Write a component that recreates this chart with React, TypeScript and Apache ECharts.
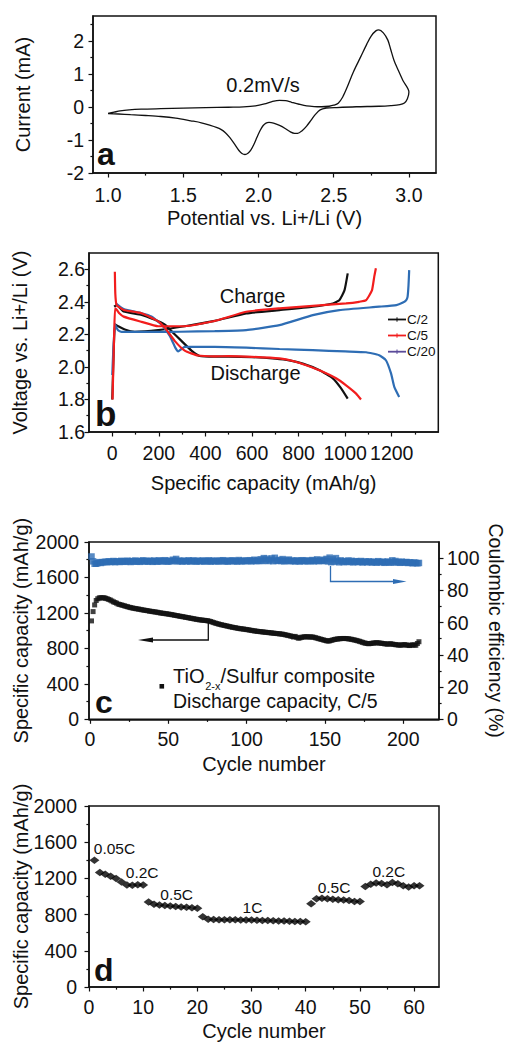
import React, { useEffect, useRef } from "react";
import * as echarts from "echarts";

const FONT = '"Liberation Sans", Arial, Helvetica, sans-serif';
const INK = "#111111";
const RED = "#f21d1d";
const BLUE = "#2e6db4";
const PURPLE = "#5b4b9a";
const TICK_FS = 19.5;
const NAME_FS = 20;

// ---------- Panel a: cyclic voltammogram ----------
const cvPotential = [
  1.0, 1.04, 1.08, 1.14, 1.22, 1.35, 1.5, 1.65, 1.8, 1.9, 1.98, 2.04, 2.09, 2.14, 2.18, 2.22, 2.27, 2.32, 2.37, 2.42,
  2.47, 2.5, 2.53, 2.56, 2.59, 2.63, 2.68, 2.72, 2.75, 2.78, 2.8, 2.83, 2.86, 2.88, 2.9, 2.93, 2.96, 3.0,
  2.99, 2.97, 2.94, 2.88, 2.8, 2.65, 2.52, 2.45, 2.41, 2.38, 2.35, 2.32, 2.29, 2.26, 2.24, 2.21, 2.18, 2.14, 2.1, 2.07,
  2.05, 2.03, 2.01, 1.99, 1.97, 1.95, 1.93, 1.91, 1.89, 1.87, 1.84, 1.81, 1.78, 1.75, 1.72, 1.68, 1.62, 1.55, 1.45, 1.35,
  1.25, 1.15, 1.07, 1.0,
];
const cvCurrent = [
  -0.2, -0.16, -0.12, -0.09, -0.07, -0.055, -0.04, -0.025, -0.01, 0.0, 0.03, 0.09, 0.16, 0.2, 0.19, 0.14, 0.08, 0.03, 0.01, 0.005,
  0.02, 0.05, 0.11, 0.3, 0.6, 1.05, 1.52, 1.9, 2.15, 2.3, 2.33, 2.24, 2.02, 1.72, 1.42, 1.1, 0.8, 0.45,
  0.25, 0.12, 0.07, 0.04, 0.02, 0.005, -0.02, -0.04, -0.09, -0.22, -0.4, -0.58, -0.72, -0.8, -0.8, -0.75, -0.66, -0.56, -0.49, -0.47,
  -0.49, -0.57, -0.72, -0.92, -1.13, -1.3, -1.4, -1.44, -1.41, -1.32, -1.12, -0.93, -0.78, -0.68, -0.62, -0.56, -0.48, -0.42, -0.34, -0.29,
  -0.26, -0.235, -0.215, -0.2,
];
const aXTicks = [1.0, 1.5, 2.0, 2.5, 3.0];
const aXMinor = [1.25, 1.75, 2.25, 2.75];
const aYTicks = [-2, -1, 0, 1, 2];
const aYMinor = [-1.5, -0.5, 0.5, 1.5, 2.5];

// ---------- Panel b: charge / discharge profiles [capacity mAh/g, voltage V] ----------
const c2Discharge = [
  [8, 2.37], [19, 2.38], [49, 2.34], [126, 2.32], [183, 2.29], [226, 2.26], [254, 2.22], [297, 2.16], [340, 2.1], [375, 2.067],
  [440, 2.063], [500, 2.063], [600, 2.06], [700, 2.05], [760, 2.04], [818, 2.02], [890, 1.98], [947, 1.93], [982, 1.87], [1011, 1.805],
];
const c2Charge = [
  [0, 1.8], [6, 2.1], [12, 2.26], [26, 2.25], [54, 2.23], [96, 2.216], [197, 2.226], [311, 2.25], [440, 2.283], [575, 2.329],
  [718, 2.349], [861, 2.37], [947, 2.39], [975, 2.41], [997, 2.47], [1011, 2.575],
];
const c5Discharge = [
  [11, 2.585], [13, 2.45], [18, 2.38], [26, 2.37], [49, 2.35], [126, 2.33], [197, 2.28], [226, 2.24], [268, 2.16], [311, 2.1],
  [368, 2.07], [440, 2.065], [500, 2.066], [600, 2.062], [718, 2.052], [780, 2.035], [833, 2.01], [904, 1.97], [961, 1.93],
  [1004, 1.887], [1047, 1.836], [1068, 1.8],
];
const c5Charge = [
  [1, 1.8], [8, 2.2], [12, 2.36], [20, 2.35], [30, 2.33], [49, 2.309], [126, 2.277], [197, 2.25], [311, 2.25], [440, 2.282],
  [575, 2.339], [718, 2.36], [861, 2.375], [1004, 2.39], [1060, 2.4], [1090, 2.41], [1115, 2.47], [1125, 2.555], [1132, 2.606],
];
const c20Discharge = [
  [15, 2.39], [49, 2.355], [126, 2.33], [168, 2.31], [211, 2.26], [247, 2.19], [270, 2.12], [283, 2.095], [297, 2.11], [311, 2.123], [440, 2.123],
  [575, 2.118], [718, 2.11], [861, 2.103], [1000, 2.095], [1090, 2.09], [1146, 2.072], [1175, 2.041], [1197, 1.96], [1211, 1.877], [1232, 1.815],
];
const c20Charge = [
  [0, 1.95], [11, 2.263], [25, 2.225], [40, 2.215], [200, 2.215], [290, 2.216], [440, 2.22], [575, 2.226], [718, 2.257], [861, 2.318],
  [975, 2.349], [1146, 2.37], [1220, 2.38], [1246, 2.394], [1262, 2.41], [1268, 2.43], [1272, 2.5], [1275, 2.595],
];
const bXTicks = [0, 200, 400, 600, 800, 1000, 1200];
const bXMinor = [100, 300, 500, 700, 900, 1100, 1300];
const bYTicks = [1.6, 1.8, 2.0, 2.2, 2.4, 2.6];
const bYMinor = [1.7, 1.9, 2.1, 2.3, 2.5];
const bLegend = ["C/2", "C/5", "C/20"];

// ---------- Panel c: cycling at C/5 ----------
const cycleCapacity = [
  1110, 1215, 1290, 1340, 1360, 1370, 1372, 1368, 1372, 1365,
  1360, 1352, 1345, 1335, 1325, 1318, 1310, 1300, 1295, 1290,
  1285, 1280, 1274, 1270, 1264, 1260, 1256, 1252, 1249, 1246,
  1243, 1240, 1236, 1233, 1230, 1227, 1224, 1220, 1218, 1215,
  1212, 1210, 1207, 1203, 1200, 1197, 1195, 1192, 1190, 1187,
  1184, 1181, 1178, 1174, 1171, 1168, 1164, 1161, 1158, 1155,
  1151, 1148, 1145, 1141, 1138, 1135, 1131, 1128, 1125, 1122,
  1120, 1118, 1116, 1114, 1112, 1108, 1103, 1097, 1091, 1085,
  1080, 1075, 1070, 1066, 1062, 1058, 1054, 1050, 1046, 1042,
  1038, 1035, 1032, 1028, 1025, 1022, 1020, 1018, 1015, 1012,
  1010, 1006, 1003, 1000, 997, 995, 992, 990, 988, 986,
  984, 982, 980, 978, 976, 974, 972, 970, 968, 966,
  964, 962, 960, 956, 952, 948, 944, 940, 935, 928,
  935, 925, 915, 918, 925, 928, 930, 932, 930, 928,
  930, 928, 925, 920, 915, 910, 905, 900, 895, 890,
  886, 882, 885, 890, 895, 900, 904, 906, 908, 910,
  911, 912, 911, 910, 908, 905, 902, 898, 894, 890,
  885, 880, 874, 868, 862, 858, 855, 852, 855, 858,
  860, 862, 864, 862, 860, 858, 855, 852, 850, 848,
  850, 852, 848, 845, 842, 840, 838, 836, 838, 840,
  842, 838, 835, 832, 836, 840, 838, 835, 855, 875,
];
const coulombicEfficiency = [
  101, 98, 96.5, 96.5, 97, 97.5, 97, 97.5, 97.5, 97.8,
  97.5, 98, 97.6, 97.8, 98.2, 97.5, 97.9, 98, 97.6, 98.3,
  97.8, 98.1, 97.7, 98.4, 98, 97.6, 98.2, 97.9, 98.5, 97.8,
  98.1, 97.7, 98.3, 98.6, 97.9, 98.2, 97.8, 98.4, 98.1, 97.7,
  98.5, 98, 97.8, 98.6, 98.2, 97.9, 98.3, 98.7, 98, 97.8,
  98.4, 98.1, 99, 98.2, 99.5, 98, 98.5, 98.1, 97.9, 98.4,
  98.2, 98, 98.6, 97.9, 98.3, 98.5, 98.1, 97.8, 98.4, 98.2,
  98, 98.5, 97.9, 98.3, 98.1, 98.6, 97.8, 98.2, 98.4, 98,
  98.3, 97.9, 98.5, 98.1, 98.7, 98, 98.3, 97.8, 98.4, 98.2,
  98.6, 98, 98.3, 97.9, 98.8, 98.2, 98, 98.5, 98.1, 98.4,
  98.2, 98.7, 98, 98.4, 99, 98.1, 98.5, 98.3, 99.3, 98.2,
  100, 98.5, 99.6, 98.2, 98.8, 99.8, 98.1, 100.2, 98.5, 98.3,
  98.9, 98.2, 99.4, 98, 98.6, 98.3, 99.1, 98.1, 98.5, 98.2,
  98, 98.6, 98.2, 97.9, 98.4, 98.7, 98.1, 98.3, 98, 98.5,
  98.2, 98.8, 98, 98.4, 99.2, 98.1, 98.5, 98.3, 99, 98.2,
  99.5, 98, 100.3, 97.5, 99.2, 97.8, 100, 98.2, 97.4, 98.6,
  98, 97.5, 98.2, 97.7, 98.5, 97.6, 98.3, 97.4, 97.9, 98.1,
  97.5, 97.8, 98.2, 97.3, 97.7, 97.9, 97.4, 98, 97.6, 97.3,
  97.8, 97.5, 97.2, 98.1, 97.6, 97.4, 97.8, 97.1, 97.5, 97.9,
  97.4, 97.2, 98.6, 97.5, 98.2, 97.3, 97.6, 97.1, 97.8, 97.4,
  97.2, 97.6, 97, 97.4, 97.1, 96.8, 97.3, 97, 96.8, 97,
];
const cXTicks = [0, 50, 100, 150, 200];
const cXMinor = [25, 75, 125, 175];
const capTicks = [0, 400, 800, 1200, 1600, 2000];
const capMinor = [200, 600, 1000, 1400, 1800];
const ceTicks = [0, 20, 40, 60, 80, 100];
const ceMinor = [10, 30, 50, 70, 90];

// ---------- Panel d: rate capability ----------
const rateCapacity = [
  1400, 1265, 1245, 1225, 1200, 1160, 1128, 1125, 1130, 1128,
  940, 915, 905, 900, 895, 890, 885, 880, 875, 870,
  775, 750, 745, 744, 743, 742, 742, 741, 740, 739,
  738, 736, 734, 732, 730, 729, 727, 725, 724, 722,
  920, 975, 980, 975, 970, 965, 960, 955, 946, 945,
  1110, 1135, 1150, 1145, 1130, 1155, 1140, 1120, 1105, 1120, 1120,
];
const rateLabels = ["0.05C", "0.2C", "0.5C", "1C", "0.5C", "0.2C"];
const dXTicks = [0, 10, 20, 30, 40, 50, 60];
const dXMinor = [5, 15, 25, 35, 45, 55];

// ---------- helpers ----------
const tickStyle = { color: INK, width: 1.2 };

function mainAxis(o: any) {
  return {
    type: "value",
    gridIndex: o.grid,
    min: o.min,
    max: o.max,
    position: o.position,
    name: o.name,
    nameLocation: "middle",
    nameGap: o.nameGap,
    nameRotate: o.nameRotate,
    nameMoveOverlap: false,
    nameTextStyle: { fontFamily: FONT, fontSize: o.nameSize || NAME_FS, color: INK },
    axisLine: { show: true, onZero: false, lineStyle: { color: INK, width: 1.5 } },
    axisTick: { show: true, inside: false, length: 4.5, customValues: o.ticks, lineStyle: tickStyle },
    axisLabel: {
      show: true,
      customValues: o.ticks,
      formatter: o.fmt || ((v: number) => String(v)),
      margin: o.margin,
      fontFamily: FONT,
      fontSize: TICK_FS,
      color: INK,
      hideOverlap: false,
    },
    splitLine: { show: false },
    minorTick: { show: false },
  };
}
function minorAxis(grid: number, min: number, max: number, ticks: number[], position: string) {
  return {
    type: "value",
    gridIndex: grid,
    min,
    max,
    position,
    axisLine: { show: false, onZero: false },
    axisTick: { show: true, inside: false, length: 2.6, customValues: ticks, lineStyle: tickStyle },
    axisLabel: { show: false },
    splitLine: { show: false },
  };
}
function txt(x: number, y: number, text: string, size: number, align = "center", bold = false, fill = INK) {
  return {
    type: "text",
    x,
    y,
    silent: true,
    style: {
      text,
      fill,
      font: `${bold ? "bold " : ""}${size}px ${FONT}`,
      textAlign: align,
      align,
      textVerticalAlign: "middle",
      verticalAlign: "middle",
    },
  };
}
function poly(points: number[][], stroke: string, width = 1.3) {
  return { type: "polyline", silent: true, shape: { points }, style: { stroke, lineWidth: width, fill: null } };
}
function head(points: number[][], fill: string) {
  return { type: "polygon", silent: true, shape: { points }, style: { fill, stroke: null } };
}

function buildOption() {
  const grids = [
    { left: 93, top: 16, width: 343, height: 157 },
    { left: 89, top: 253, width: 349.3, height: 179 },
    { left: 89, top: 542, width: 350, height: 177.3 },
    { left: 89, top: 806, width: 350, height: 181 },
  ].map((g) => ({ ...g, show: true, borderColor: INK, borderWidth: 1.5, backgroundColor: "transparent", containLabel: false, outerBoundsMode: "none" }));

  const f1 = (v: number) => v.toFixed(1);

  const xAxis = [
    mainAxis({ grid: 0, min: 0.9, max: 3.18, ticks: aXTicks, fmt: f1, name: "Potential vs. Li+/Li (V)", nameGap: 35, margin: 12, position: "bottom" }),
    minorAxis(0, 0.9, 3.18, aXMinor, "bottom"),
    mainAxis({ grid: 1, min: -100, max: 1400, ticks: bXTicks, name: "Specific capacity (mAh/g)", nameGap: 41, margin: 11, position: "bottom" }),
    minorAxis(1, -100, 1400, bXMinor, "bottom"),
    mainAxis({ grid: 2, min: -0.6, max: 222.8, ticks: cXTicks, name: "Cycle number", nameGap: 35, margin: 10, position: "bottom" }),
    minorAxis(2, -0.6, 222.8, cXMinor, "bottom"),
    mainAxis({ grid: 3, min: 0, max: 64.6, ticks: dXTicks, name: "Cycle number", nameGap: 34, margin: 9.5, position: "bottom" }),
    minorAxis(3, 0, 64.6, dXMinor, "bottom"),
  ];
  const yAxis = [
    mainAxis({ grid: 0, min: -2, max: 2.75, ticks: aYTicks, name: "Current (mA)", nameGap: 60, margin: 9, position: "left" }),
    minorAxis(0, -2, 2.75, aYMinor, "left"),
    mainAxis({ grid: 1, min: 1.6, max: 2.7, ticks: bYTicks, fmt: f1, name: "Voltage vs. Li+/Li (V)", nameGap: 59, margin: 4, position: "left" }),
    minorAxis(1, 1.6, 2.7, bYMinor, "left"),
    mainAxis({ grid: 2, min: 0, max: 2000, ticks: capTicks, name: "Specific capacity (mAh/g)", nameGap: 58, margin: 10, position: "left" }),
    minorAxis(2, 0, 2000, capMinor, "left"),
    mainAxis({ grid: 2, min: 0, max: 110, ticks: ceTicks, name: "Coulombic efficiency (%)", nameGap: 46.5, nameRotate: -90, nameSize: 19.5, margin: 8, position: "right" }),
    minorAxis(2, 0, 110, ceMinor, "right"),
    mainAxis({ grid: 3, min: 0, max: 2000, ticks: capTicks, name: "Specific capacity (mAh/g)", nameGap: 58, margin: 12, position: "left" }),
    minorAxis(3, 0, 2000, capMinor, "left"),
  ];

  const bLine = (name: string, data: number[][], color: string) => ({
    type: "line",
    name,
    xAxisIndex: 2,
    yAxisIndex: 2,
    data,
    showSymbol: false,
    symbol: "none",
    smooth: 0.15,
    lineStyle: { color, width: 2.2 },
    z: 3,
  });

  const series = [
    {
      type: "line",
      name: "CV",
      xAxisIndex: 0,
      yAxisIndex: 0,
      data: cvPotential.map((v, i) => [v, cvCurrent[i]]),
      showSymbol: false,
      symbol: "none",
      smooth: 0.3,
      lineStyle: { color: INK, width: 1.3 },
    },
    bLine("C/2 discharge", c2Discharge, INK),
    bLine("C/2 charge", c2Charge, INK),
    bLine("C/20 discharge", c20Discharge, BLUE),
    bLine("C/20 charge", c20Charge, BLUE),
    bLine("C/5 discharge", c5Discharge, RED),
    bLine("C/5 charge", c5Charge, RED),
    {
      type: "scatter",
      name: "Coulombic efficiency",
      xAxisIndex: 4,
      yAxisIndex: 6,
      data: coulombicEfficiency.map((v, i) => [i + 1, v]),
      symbol: "rect",
      symbolSize: 6.5,
      itemStyle: { color: BLUE },
    },
    {
      type: "scatter",
      name: "Discharge capacity",
      xAxisIndex: 4,
      yAxisIndex: 4,
      data: cycleCapacity.map((v, i) => [i + 1, v]),
      symbol: "rect",
      symbolSize: 5,
      itemStyle: { color: INK },
    },
    {
      type: "scatter",
      name: "Rate capability",
      xAxisIndex: 6,
      yAxisIndex: 8,
      data: rateCapacity.map((v, i) => [i + 1, v]),
      symbol: "diamond",
      symbolSize: [10, 7.5],
      itemStyle: { color: "#000" },
    },
  ];

  const legendColors = [INK, RED, PURPLE];
  const legendY = [319.5, 335.5, 351.7];
  const legendEls: any[] = [];
  bLegend.forEach((name, i) => {
    legendEls.push(poly([[388, legendY[i]], [406, legendY[i]]], legendColors[i], 1.8));
    legendEls.push(poly([[397, legendY[i] - 2.2], [397, legendY[i] + 2.2]], legendColors[i], 1));
    legendEls.push(txt(407, legendY[i], name, 13.5, "left"));
  });

  const ratePos = [
    [114.5, 848.4], [142.2, 872.7], [176.7, 894.4], [252.5, 907], [334, 887], [388.8, 871],
  ];

  // "TiO" + subscript "2-x" + "/Sulfur composite" (Arial-metric widths at 20px / 11px)
  const x0 = 173;
  const wTiO = 1.611 * 20;
  const wSub = 1.389 * 11;

  const graphic = [
    // panel letters
    txt(97, 154, "a", 32, "left", true),
    txt(95, 413, "b", 35, "left", true),
    txt(95, 702, "c", 32, "left", true),
    txt(94, 970, "d", 32, "left", true),
    // panel a
    txt(263, 85, "0.2mV/s", 20),
    // panel b
    txt(252.5, 296, "Charge", 20),
    txt(255.5, 372.6, "Discharge", 20),
    ...legendEls,
    // panel c arrows
    poly([[208.3, 621.5], [208.3, 640], [150, 640]], INK, 1.3),
    head([[138, 640], [153, 637.4], [153, 642.6]], INK),
    poly([[330.5, 566], [330.5, 581.5], [395, 581.5]], BLUE, 1.3),
    head([[406.5, 581.5], [393, 579], [393, 584]], BLUE),
    // panel c annotation
    { type: "rect", silent: true, shape: { x: 159.5, y: 684, width: 4.6, height: 4.6 }, style: { fill: INK } },
    txt(x0, 675.5, "TiO", 20, "left"),
    txt(x0 + wTiO, 685.5, "2-x", 11, "left"),
    txt(x0 + wTiO + wSub, 675.5, "/Sulfur composite", 20, "left"),
    txt(x0, 701, "Discharge capacity, C/5", 19.5, "left"),
    // panel d rate labels
    ...rateLabels.map((t, i) => txt(ratePos[i][0], ratePos[i][1], t, 15.5)),
  ];

  return {
    animation: false,
    backgroundColor: "#ffffff",
    textStyle: { fontFamily: FONT },
    grid: grids,
    xAxis,
    yAxis,
    series,
    graphic,
  };
}

export default function App() {
  const ref = useRef<HTMLDivElement>(null);
  useEffect(() => {
    const chart = echarts.init(ref.current as HTMLDivElement, null, { renderer: "svg" });
    chart.setOption(buildOption() as any);
    return () => chart.dispose();
  }, []);
  return (
    <div
      ref={ref}
      style={{ position: "absolute", left: 0, top: 0, width: 507, height: 1042, background: "#fff" }}
    />
  );
}
